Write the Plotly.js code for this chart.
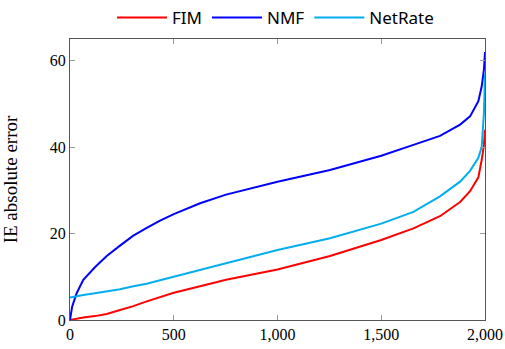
<!DOCTYPE html>
<html>
<head>
<meta charset="utf-8">
<script src="https://cdn.plot.ly/plotly-3.0.1.min.js"></script>
<style>html,body{margin:0;padding:0;background:#fff;}</style>
</head>
<body>
<div id="chart" style="width:505px;height:349px;"></div>
<script>
const xs = [0, 10, 32, 64, 120, 177, 241, 305, 370, 434, 500, 627, 752, 1000, 1253, 1500, 1655, 1783, 1880, 1928, 1968, 1984, 1995, 2000];
const fim = [0, 0.1, 0.3, 0.6, 0.9, 1.4, 2.3, 3.2, 4.3, 5.3, 6.3, 7.8, 9.3, 11.7, 14.8, 18.5, 21.2, 24, 27.3, 29.8, 33, 37, 40.5, 44];
const nmf = [0, 3, 6.2, 9.3, 12.2, 14.8, 17.2, 19.5, 21.3, 23, 24.5, 27, 29, 32, 34.7, 38, 40.5, 42.6, 45.2, 47.1, 50.6, 54, 58, 62];
const netrate = [5.2, 5.3, 5.5, 5.8, 6.2, 6.6, 7.1, 7.8, 8.4, 9.2, 10, 11.6, 13.1, 16.2, 18.9, 22.3, 25, 28.6, 32, 34.5, 37.5, 40, 48, 57];
const names = ['FIM', 'NMF', 'NetRate'];
const colors = ['rgb(255,0,0)', 'rgb(0,0,255)', 'rgb(0,174,239)'];
const series = [fim, nmf, netrate];

const traces = series.map((ys, i) => ({
  x: xs, y: ys, type: 'scatter', mode: 'lines', name: names[i],
  line: {color: colors[i], width: 2}
}));

const axisCommon = {
  showgrid: false, zeroline: false, showline: true, mirror: 'ticks',
  linecolor: '#555', linewidth: 1, ticks: 'inside', ticklen: 5, tickcolor: '#999',
  tickfont: {family: 'Liberation Serif, serif', size: 16, color: '#000'}
};

const layout = {
  width: 505, height: 349,
  margin: {l: 70, r: 20, t: 39, b: 29},
  paper_bgcolor: '#fff', plot_bgcolor: '#fff',
  showlegend: true,
  legend: {orientation: 'h', xref: 'container', yref: 'container', x: 0.5455, xanchor: 'center', y: 1, yanchor: 'top',
    font: {family: 'Noto Sans, sans-serif', size: 17, color: '#000'},
    itemwidth: 50, tracegroupgap: 0, borderwidth: 0},
  xaxis: Object.assign({}, axisCommon, {range: [0, 2000], tickvals: [0, 500, 1000, 1500, 2000], tickformat: ',d', automargin: false}),
  yaxis: Object.assign({}, axisCommon, {range: [0, 65], tickvals: [0, 20, 40, 60], automargin: false,
    title: {text: 'IE absolute error', font: {family: 'Liberation Serif, serif', size: 19, color: '#000'}, standoff: 28}})
};

Plotly.newPlot('chart', traces, layout, {displayModeBar: false, staticPlot: true});
</script>
</body>
</html>
